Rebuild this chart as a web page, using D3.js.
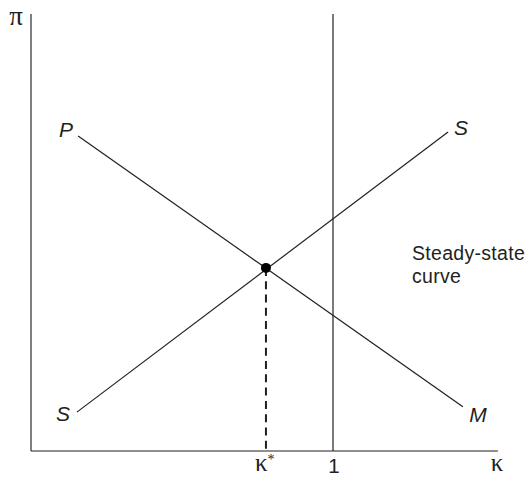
<!DOCTYPE html>
<html>
<head>
<meta charset="utf-8">
<script src="https://cdn.jsdelivr.net/npm/d3@7"></script>
<style>
  body { margin: 0; background: #fff; }
  .sans { font-family: "Liberation Sans", Arial, sans-serif; fill: #231f20; }
  .serif { font-family: "Liberation Serif", "Times New Roman", serif; fill: #231f20; }
</style>
</head>
<body>
<svg id="chart"></svg>
<script>
// kappa on x (1 = the steady-state vertical), pi on y (abstract units)
const xMax = 1.546;
const yMax = 1;
const kStar = 0.778;
const kOne = 1;
const eqPi = 0.419;

// PM curve, from the P end to the M end
const pmLine = [
  { k: 0.156, p: 0.721 },
  { k: 1.430, p: 0.101 },
];
// SS curve, lower S end to upper S end
const ssLine = [
  { k: 0.152, p: 0.089 },
  { k: 1.381, p: 0.730 },
];

const curveLabels = [
  { text: 'P', k: 0.116, p: 0.719 },
  { text: 'S', k: 1.424, p: 0.723 },
  { text: 'S', k: 0.106, p: 0.069 },
  { text: 'M', k: 1.480, p: 0.066 },
];

const config = {
  width: 529,
  height: 477,
  margin: { top: 14, right: 30, bottom: 26, left: 31 },
};

const svg = d3.select('#chart')
  .attr('width', config.width)
  .attr('height', config.height);

// origin at the bottom-left corner of the axes
const xScale = d3.scaleLinear()
  .domain([0, 1])
  .range([config.margin.left, 333]);

const yScale = d3.scaleLinear()
  .domain([0, yMax])
  .range([config.height - config.margin.bottom, config.margin.top]);

const ink = '#231f20';

// axes: just two plain lines, no ticks
svg.append('line')
  .attr('x1', xScale(0)).attr('x2', xScale(0))
  .attr('y1', yScale(0)).attr('y2', yScale(yMax))
  .attr('stroke', '#555').attr('stroke-width', 1.5);

svg.append('line')
  .attr('x1', xScale(0)).attr('x2', xScale(xMax))
  .attr('y1', yScale(0)).attr('y2', yScale(0))
  .attr('stroke', ink).attr('stroke-width', 1.2);

// steady-state curve at kappa = 1
svg.append('line')
  .attr('x1', xScale(kOne)).attr('x2', xScale(kOne))
  .attr('y1', yScale(0)).attr('y2', yScale(yMax))
  .attr('stroke', ink).attr('stroke-width', 1.2);

const line = d3.line()
  .x((d) => xScale(d.k))
  .y((d) => yScale(d.p));

svg.append('path')
  .datum(pmLine)
  .attr('d', line)
  .attr('fill', 'none')
  .attr('stroke', ink)
  .attr('stroke-width', 1.2);

svg.append('path')
  .datum(ssLine)
  .attr('d', line)
  .attr('fill', 'none')
  .attr('stroke', ink)
  .attr('stroke-width', 1.2);

// dashed drop line from the equilibrium
svg.append('line')
  .attr('x1', xScale(kStar)).attr('x2', xScale(kStar))
  .attr('y1', yScale(eqPi)).attr('y2', yScale(0))
  .attr('stroke', ink)
  .attr('stroke-width', 2)
  .attr('stroke-dasharray', '8,5.3');

svg.append('circle')
  .attr('cx', xScale(kStar))
  .attr('cy', yScale(eqPi))
  .attr('r', 5)
  .attr('fill', '#000');

// curve end labels
svg.selectAll('.curve-label')
  .data(curveLabels)
  .join('text')
  .attr('class', 'curve-label sans')
  .attr('x', (d) => xScale(d.k))
  .attr('y', (d) => yScale(d.p))
  .attr('text-anchor', 'middle')
  .attr('font-style', 'italic')
  .attr('font-size', 21)
  .text((d) => d.text);

// steady-state annotation
const note = svg.append('text')
  .attr('class', 'sans')
  .attr('font-size', 19.5)
  .attr('letter-spacing', 0.3);
note.append('tspan').attr('x', 412).attr('y', 260).text('Steady-state');
note.append('tspan').attr('x', 412).attr('y', 283).text('curve');

// axis labels
svg.append('text')
  .attr('class', 'serif')
  .attr('x', 16).attr('y', 25)
  .attr('text-anchor', 'middle')
  .attr('font-size', 27)
  .text('π');

svg.append('text')
  .attr('class', 'serif')
  .attr('x', 497).attr('y', 471)
  .attr('text-anchor', 'middle')
  .attr('font-size', 25)
  .text('κ');

const kStarLabel = svg.append('text')
  .attr('class', 'serif')
  .attr('x', xScale(kStar) - 11).attr('y', 471)
  .attr('font-size', 25);
kStarLabel.append('tspan').text('κ');
kStarLabel.append('tspan').attr('font-size', 14).attr('dy', -7).text('*');

svg.append('text')
  .attr('class', 'sans')
  .attr('x', xScale(kOne) + 1).attr('y', 473)
  .attr('text-anchor', 'middle')
  .attr('font-size', 20.5)
  .text('1');
</script>
</body>
</html>
